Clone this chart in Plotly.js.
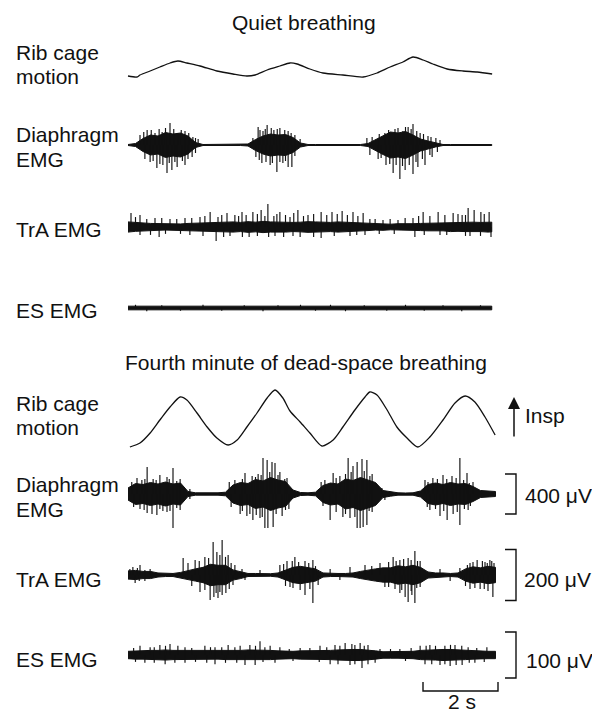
<!DOCTYPE html>
<html><head><meta charset="utf-8">
<script src="https://cdn.plot.ly/plotly-3.0.1.min.js"></script>
<style>html,body{margin:0;padding:0;background:#fff}#chart{width:592px;height:712px}</style>
</head><body><div id="chart"></div>
<script>
// ================= DATA =================
// time grid (s) for EMG envelopes
const envT  = [0,0.2,0.4,0.6,0.8,1,1.2,1.4,1.6,1.8,2,2.2,2.4,2.6,2.8,3,3.2,3.4,3.6,3.8,4,4.2,4.4,4.6,4.8,5,5.2,5.4,5.6,5.8,6,6.2,6.4,6.6,6.8,7,7.2,7.4,7.6,7.8,8,8.2,8.4,8.6,8.8,9,9.2,9.4,9.6,9.8];
const envTq = [0,0.2,0.4,0.6,0.8,1,1.2,1.4,1.6,1.8,2,2.2,2.4,2.6,2.8,3,3.2,3.4,3.6,3.8,4,4.2,4.4,4.6,4.8,5,5.2,5.4,5.6,5.8,6,6.2,6.4,6.6,6.8,7,7.2,7.4,7.6,7.8,8,8.2,8.4,8.6,8.8,9,9.2,9.4,9.6,9.7];

// ---- Quiet breathing ----
const qRibT = [0,0.24,0.32,0.59,0.85,1.12,1.33,1.57,1.92,2.37,2.8,3.17,3.39,3.71,4.05,4.32,4.51,4.85,5.2,5.73,6.27,6.64,6.99,7.33,7.6,7.87,8.13,8.51,8.93,9.31,9.71];
const qRibV = [1,0,2,6,10,14,16,14,11,6,3,1,2,7,11,14,13,8,4,2,0,4,10,15,20,17,13,8,6,5,3];

const qDiaEnv = [5,15,65,100,90,125,110,120,90,25, 5,5,5,5,5,5,10,55,90,110, 100,105,75,20,5,5,5,5,5,5, 5,5,15,55,95,130,120,135,100,60, 40,20,5,5,5,5,5,5,5,5];
const qDiaSpT = [0.51,1.12,1.52,0.72,0.32,0.91,1.33,1.73,1.87, 1.04,0.77,1.31,1.52,0.59,0.93,1.17,1.71,
  3.47,3.71,4.05,3.6,3.89,4.27,4.45,4.59,3.33, 3.97,4.27,4.37,3.57,3.79,4.13,3.41,
  7.6,6.37,6.51,6.85,7.12,7.33,7.79,8.0,8.21,8.32,7.47, 7.25,7.07,7.6,7.92,7.39,6.88,6.67,6.45,8.11,7.73,
  0.42,0.62,0.83,1.0,1.22,1.42,1.62,1.8, 0.45,0.67,0.85,1.1,1.25,1.45,1.6,1.8,
  3.52,3.66,3.82,3.98,4.18,4.35, 3.5,3.68,3.85,4.05,4.2,4.45,
  6.7,6.95,7.2,7.4,7.55,7.7,7.88,8.08, 6.75,6.98,7.15,7.32,7.5,7.68,7.85,8.05,8.25];
const qDiaSpV = [150,220,140,120,100,130,120,80,60, -280,-230,-220,-200,-170,-200,-250,-120,
  180,200,170,140,150,140,100,60,70, -270,-220,-220,-180,-200,-180,-120,
  210,70,80,120,160,140,120,90,70,50,180, -340,-280,-290,-200,-250,-200,-140,-100,-120,-220,
  130,150,160,170,160,150,120,70, -140,-160,-190,-180,-170,-160,-140,-80,
  150,160,170,160,150,120, -150,-170,-180,-170,-160,-110,
  110,150,170,180,160,140,110,80, -130,-190,-200,-210,-200,-170,-140,-100,-70];

const qTraEnv = [20,17,16,14,13,12,13,12,14,15, 16,18,17,19,20,18,21,19,22,20, 19,20,18,19,21,20,19,18,20,19, 18,16,14,12,13,11,13,12,13,14, 15,16,15,18,17,18,19,18,20,19];
const qTraSpT = [0.08,0.32,0.72,1.12,1.52,1.92,2.19,2.4,2.64,2.85,3.04,3.33,3.55,3.73,3.89,4.05,4.32,4.53,4.8,5.15,5.44,5.71,6.0,6.27,6.59,6.99,7.39,7.87,8.27,8.67,8.91,9.07,9.23,9.41,9.63,
  0.2,0.5,0.9,1.3,1.7,2.05,2.5,2.95,3.15,3.45,3.65,3.97,4.2,4.42,4.68,4.95,5.3,5.58,5.85,6.13,6.45,6.8,7.2,7.6,7.75,8.05,8.45,8.8,9.0,9.5,
  2.35,0.83,3.23,5.15,7.65,9.68,0.32,1.65,3.92,4.59,5.92,8.32,9.12,2.72,6.32,
  0.6,1.0,1.4,2.0,2.55,3.05,3.45,3.75,4.15,4.4,4.95,5.5,6.1,6.7,7.1,7.9,8.5,9.0,9.4];
const qTraSpV = [55,47,35,31,35,39,59,39,55,47,59,59,67,90,43,59,39,67,47,59,59,63,59,55,31,31,35,59,59,55,47,75,67,59,59,
  39,31,35,31,35,43,47,43,47,51,43,51,47,55,43,51,47,51,47,43,31,27,27,35,43,43,47,51,47,51,
  -55,-39,-39,-43,-39,-39,-31,-31,-35,-39,-35,-31,-35,-35,-31,
  -31,-27,-27,-35,-39,-39,-35,-39,-39,-35,-39,-35,-31,-27,-27,-31,-31,-35,-35];

const qEsEnv = [4,4,5,4,4,4,5,4,4,4, 4,5,4,4,4,4,5,4,4,4, 4,4,5,4,4,4,4,5,4,4, 4,4,4,5,4,4,4,4,5,4, 4,4,4,4,5,4,4,4,4,4];
const qEsSpT = [0.2,0.5,0.9,1.4,2.0,2.5,3.1,3.6,4.0,4.6,5.0,5.4,5.8,6.3,6.9,7.4,7.9,8.4,8.9,9.4];
const qEsSpV = [7,-7,6,-6,7,-6,6,-7,6,7,-6,7,-7,6,-6,7,-6,6,-7,6];

// ---- Fourth minute of dead-space breathing ----
const dRibT = [0.05,0.32,0.59,0.85,1.12,1.39,1.57,1.84,2.11,2.37,2.67,2.91,3.17,3.44,3.71,3.92,4.13,4.32,4.59,4.85,5.17,5.47,5.73,6.05,6.32,6.45,6.64,6.91,7.17,7.44,7.73,8.05,8.4,8.72,8.99,9.25,9.52,9.79];
const dRibV = [0,4,14,27,40,50,47,34,20,9,2,7,20,34,49,57,49,36,25,14,1,7,20,37,50,55,52,37,20,9,0,10,27,44,51,45,30,12];

const dDiaEnv = [60,105,95,115,100,120,100,110,25,12, 12,10,12,18,90,115,105,145,130,165, 140,125,40,15,12,18,85,110,100,150, 135,165,140,115,35,22,12,10,12,30, 95,110,95,115,100,105,75,35,30,25];
const dDiaSpT = [0.24,0.51,0.85,1.2,0.67,1.04,1.39,0.37, 1.2,0.51,0.77,1.04,0.32,1.39,0.64,0.93, 1.65,1.65,
  3.12,3.6,3.71,3.84,3.92,4.05,2.85,3.31,3.47,4.24, 3.65,3.73,3.87,3.33,2.99,3.17,3.52,4.11,4.29,
  5.47,5.87,6.11,6.24,6.37,6.0,5.25,5.65,6.51,6.77, 6.11,6.19,6.27,6.37,5.73,5.39,5.92,6.51,6.85,
  7.92,8.4,8.85,9.04,8.13,8.64,9.2, 8.51,8.85,8.32,8.05,8.67,9.07,
  0.1,0.45,0.75,1.1,1.3,2.7,3.05,3.4,3.55,3.78,4.0,4.18,5.15,5.55,5.8,5.95,6.3,6.45,8.0,8.25,8.5,8.75,8.95,9.1,
  0.15,0.43,0.85,1.12,1.3,2.75,3.05,3.25,3.42,3.58,3.95,4.2,5.2,5.55,5.8,6.05,6.43,7.98,8.2,8.42,8.78,8.97,9.13];
const dDiaSpV = [160,270,190,260,150,170,150,140, -340,-190,-210,-180,-150,-160,-200,-170, 50,-50,
  210,360,340,320,310,220,140,180,200,160, -340,-340,-330,-260,-200,-220,-240,-220,-150,
  210,360,320,350,340,280,140,180,200,60, -340,-340,-330,-310,-230,-260,-240,-180,-60,
  140,190,360,210,160,180,120, -260,-310,-220,-160,-200,-160,
  120,150,140,150,130,120,150,170,190,220,190,150,120,160,200,220,230,180,120,150,150,160,140,110,
  -130,-160,-150,-170,-140,-130,-170,-200,-210,-230,-200,-160,-120,-180,-200,-230,-170,-130,-150,-170,-180,-150,-120];

const dTraEnv = [16,18,14,14,8,6,6,10,18,24, 30,42,38,38,20,14,6,6,5,5, 8,20,30,34,28,24,8,6,6,6, 8,14,20,24,28,28,36,32,38,30, 12,8,8,6,8,24,32,28,34,30];
const dTraSpT = [0.13,0.32,0.59,1.47,1.79,2.05,2.27,2.37,2.51,2.67,2.85,3.04,3.52,4.05,4.24,4.45,4.72,4.93,5.39,5.92,6.32,6.72,7.07,7.25,7.47,7.65,7.79,8.32,8.85,9.12,9.31,9.52,9.65,9.76,
  0.05,0.25,0.45,1.6,1.9,2.15,2.45,2.6,2.75,4.15,4.38,4.55,4.82,5.0,6.5,6.95,7.15,7.35,7.55,7.72,9.05,9.2,9.45,9.58,9.7,
  0.19,0.45,1.92,2.19,2.29,2.4,2.51,2.61,2.8,3.12,4.32,4.59,4.72,4.93,5.07,5.65,6.85,7.12,7.25,7.39,7.47,7.57,7.65,7.79,8.59,9.12,9.39,9.6,9.73,
  0.3,1.7,2.05,2.35,2.45,2.7,4.2,4.4,4.85,6.95,7.3,7.55,7.7,9.0,9.25,9.5];
const dTraSpV = [31,39,24,67,59,71,129,90,137,78,39,24,20,39,55,71,55,59,24,31,39,47,71,59,67,94,55,24,27,47,59,51,59,47,
  24,27,20,47,55,67,78,71,47,43,55,51,47,35,35,51,55,63,59,55,39,51,55,47,55,
  -31,-24,-67,-98,-86,-90,-78,-71,-39,-20,-47,-59,-78,-110,-39,-20,-47,-55,-71,-86,-106,-78,-110,-47,-24,-55,-55,-63,-86,
  -24,-43,-59,-71,-67,-55,-43,-51,-55,-47,-59,-63,-51,-43,-51,-55];

const dEsEnv = [8,9,9,10,10,11,10,10,9,9, 10,9,9,10,10,10,11,11,10,10, 9,8,8,9,9,10,10,10,11,12, 12,12,11,9,7,7,7,7,8,10, 11,11,12,12,11,10,9,8,8,8];
const dEsSpT = [0.32,0.59,0.85,1.12,1.33,1.52,2.05,2.32,2.67,2.99,3.25,3.52,3.79,4.05,4.59,5.12,5.52,5.79,5.97,6.19,6.4,6.72,7.25,7.79,8.05,8.45,8.72,9.07,9.57,
  0.15,0.7,1.0,1.7,2.2,2.5,2.85,3.4,3.65,4.3,4.85,5.3,5.65,6.05,6.3,7.0,7.55,7.95,8.2,8.6,8.9,9.3,
  0.45,0.99,1.52,2.32,3.12,3.39,3.92,5.39,5.92,6.24,6.59,7.92,8.32,8.59,8.91,9.25,
  0.2,0.7,1.25,1.8,2.1,2.6,2.9,3.6,4.4,5.1,5.6,6.05,6.4,7.4,8.1,8.45,8.75,9.1,9.5];
const dEsSpV = [20,17,22,24,20,17,20,17,22,20,22,30,20,17,15,20,22,26,24,26,22,13,13,20,22,20,22,17,17,
  15,17,20,15,17,17,17,20,17,13,15,17,20,22,20,13,15,20,20,22,20,15,
  -17,-20,-17,-20,-22,-22,-17,-20,-22,-28,-17,-20,-22,-24,-22,-17,
  -15,-17,-17,-15,-17,-17,-17,-15,-13,-15,-20,-20,-20,-13,-20,-20,-22,-17,-15];

// calibration bars
const scaleUV = [400, 200, 100];      // diaphragm, TrA, ES (dead-space)
const scaleLabels = ['400 \u03bcV', '200 \u03bcV', '100 \u03bcV'];
const timeBarS = 2;

// ================= LAYOUT CONSTANTS =================
const W = 592, H = 712;
const X0PX = 128, PXS = 37.5;               // time 0 at 128 px, 37.5 px per second
const INK = '#111111';
const FONT = 'Liberation Sans, Arial, Helvetica, sans-serif';
// channel placement: axis index, baseline pixel (from top), gain (px per unit)
const CH = {
  qRib:{ax:1, base:77,  gain:1},
  qDia:{ax:2, base:145, gain:0.1},
  qTra:{ax:3, base:227, gain:0.255},
  qEs: {ax:4, base:308, gain:0.46},
  dRib:{ax:5, base:447, gain:1},
  dDia:{ax:6, base:494, gain:0.1},
  dTra:{ax:7, base:575, gain:0.255},
  dEs: {ax:8, base:655, gain:0.46}
};
const yname = i => i === 1 ? 'y' : 'y' + i;
const px2t = p => (p - X0PX) / PXS;

const traces = [];
function ribTrace(ch, t, v){
  traces.push({type:'scatter', mode:'lines', x:t, y:v, yaxis:yname(ch.ax),
    line:{color:INK, width:1.3, shape:'spline', smoothing:0.7}, hoverinfo:'skip'});
}
function emgTraces(ch, t, env, spT, spV){
  const xs = t.concat(t.slice().reverse());
  const ys = env.concat(env.slice().reverse().map(v => -v));
  traces.push({type:'scatter', mode:'lines', x:xs, y:ys, yaxis:yname(ch.ax), fill:'toself',
    fillcolor:INK, line:{color:INK, width:1}, hoverinfo:'skip'});
  const sx = [], sy = [];
  spT.forEach((tt, i) => { sx.push(tt, tt, null); sy.push(0, spV[i], null); });
  traces.push({type:'scatter', mode:'lines', x:sx, y:sy, yaxis:yname(ch.ax),
    line:{color:INK, width:1.15}, hoverinfo:'skip'});
}
ribTrace(CH.qRib, qRibT, qRibV);
emgTraces(CH.qDia, envTq, qDiaEnv, qDiaSpT, qDiaSpV);
emgTraces(CH.qTra, envTq, qTraEnv, qTraSpT, qTraSpV);
emgTraces(CH.qEs, envTq, qEsEnv, qEsSpT, qEsSpV);
ribTrace(CH.dRib, dRibT, dRibV);
emgTraces(CH.dDia, envT, dDiaEnv, dDiaSpT, dDiaSpV);
emgTraces(CH.dTra, envT, dTraEnv, dTraSpT, dTraSpV);
emgTraces(CH.dEs, envT, dEsEnv, dEsSpT, dEsSpV);

// amplitude calibration brackets (drawn on each channel's own axis)
[CH.dDia, CH.dTra, CH.dEs].forEach((ch, i) => {
  const h = scaleUV[i] / 2, xa = px2t(516), xb = px2t(505);
  traces.push({type:'scatter', mode:'lines', x:[xb, xa, xa, xb], y:[h, h, -h, -h], yaxis:yname(ch.ax),
    line:{color:INK, width:1.4}, hoverinfo:'skip'});
});

const layout = {
  width:W, height:H, margin:{l:0, r:0, t:0, b:0}, showlegend:false,
  paper_bgcolor:'#fff', plot_bgcolor:'#fff',
  xaxis:{domain:[0,1], range:[px2t(0), px2t(W)], visible:false, fixedrange:true},
  annotations:[], shapes:[]
};
Object.values(CH).forEach(ch => {
  const key = ch.ax === 1 ? 'yaxis' : 'yaxis' + ch.ax;
  layout[key] = {domain:[0,1], range:[-(H - ch.base)/ch.gain, ch.base/ch.gain], visible:false, fixedrange:true};
  if (ch.ax > 1) layout[key].overlaying = 'y';
});

// time calibration bar
const tb0 = px2t(423), yb = 1 - 691/H, yt = 1 - 682/H;
layout.shapes.push({type:'path', xref:'x', yref:'paper',
  path:`M${tb0},${yt} L${tb0},${yb} L${tb0 + timeBarS},${yb} L${tb0 + timeBarS},${yt}`,
  line:{color:INK, width:1.4}});

function label(text, xpx, ypx, anchor){
  layout.annotations.push({text, xref:'paper', yref:'paper', x:xpx/W, y:1 - ypx/H,
    xanchor:anchor || 'left', yanchor:'middle', showarrow:false,
    font:{family:FONT, size:21, color:INK}});
}
label('Quiet breathing', 304, 22.5, 'center');
label('Rib cage', 14, 52.5); label('motion', 14, 76.5);
label('Diaphragm', 14, 134.5); label('EMG', 14, 159.5);
label('TrA EMG', 14, 229.5);
label('ES EMG', 14, 310);
label('Fourth minute of dead-space breathing', 306, 362.5, 'center');
label('Rib cage', 14, 403.5); label('motion', 14, 427.5);
label('Diaphragm', 14, 484.5); label('EMG', 14, 509.5);
label('TrA EMG', 14, 579.5);
label('ES EMG', 14, 659.5);
label('Insp', 523, 415.5);
label(scaleLabels[0], 523, 495.5);
label(scaleLabels[1], 522, 579.5);
label(scaleLabels[2], 524, 660);
label(timeBarS + ' s', 462, 701, 'center');

// inspiration arrow
layout.annotations.push({text:'', xref:'paper', yref:'paper', x:514/W, y:1 - 397/H,
  ax:0, ay:41, showarrow:true, arrowhead:2, arrowsize:1.6, arrowwidth:1.5, arrowcolor:INK});

Plotly.newPlot('chart', traces, layout, {displayModeBar:false, staticPlot:true});
</script>
</body></html>
